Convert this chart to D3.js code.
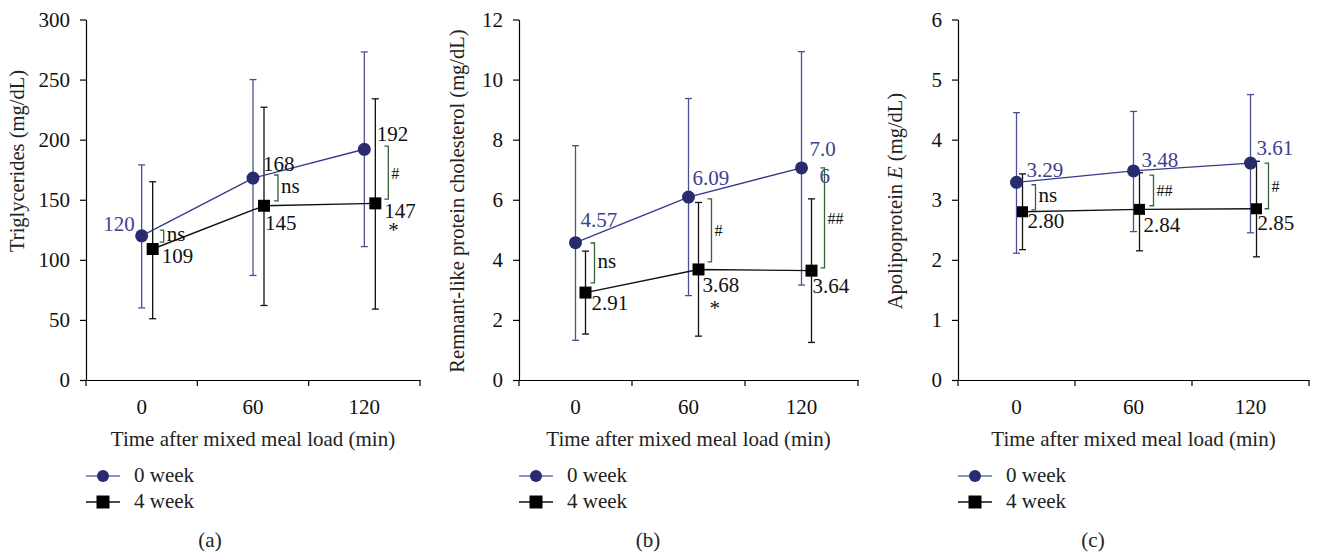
<!DOCTYPE html>
<html lang="en">
<head>
  <meta charset="UTF-8" />
  <title>Postprandial lipids, 0 vs 4 week</title>
  <script src="https://d3js.org/d3.v7.min.js"></script>
  <style>
    body {
      margin: 0;
      background: #fff;
    }
    svg {
      display: block;
      font-family: "Liberation Serif", "Times New Roman", serif;
    }
    .axis path, .axis line {
      stroke: #000;
      stroke-width: 1.2px;
    }
    .axis text {
      font-size: 21px;
      fill: #111;
      font-family: "Liberation Serif", serif;
    }
  </style>
</head>
<body>
  <svg id="chart" width="1317" height="554"></svg>

  <script>
    // time points on the x axis
    const times = ["0", "60", "120"];

    // (a) triglycerides, mg/dL
    const tgWeek0 = [120, 168, 192];
    const tgWeek0Err = [[60, 179], [87, 250], [111, 273]];
    const tgWeek4 = [109, 145, 147];
    const tgWeek4Err = [[51, 165], [62, 227], [59, 234]];
    const tgSig = [[114.8, 124.8, "ns"], [149, 170.6, "ns"], [150.6, 194.7, "#"]];
    const tgStar = ["", "", "*"];

    // (b) remnant-like protein cholesterol, mg/dL
    const rlpWeek0 = [4.57, 6.09, 7.06];
    const rlpWeek0Err = [[1.32, 7.80], [2.81, 9.37], [3.16, 10.93]];
    const rlpWeek4 = [2.91, 3.68, 3.64];
    const rlpWeek4Err = [[1.53, 4.29], [1.46, 5.91], [1.25, 6.03]];
    const rlpSig = [[3.23, 4.56, "ns"], [3.93, 6.03, "#"], [3.73, 7.06, "##"]];
    const rlpStar = ["", "*", ""];

    // (c) apolipoprotein E, mg/dL
    const apoWeek0 = [3.29, 3.48, 3.61];
    const apoWeek0Err = [[2.11, 4.45], [2.47, 4.47], [2.45, 4.75]];
    const apoWeek4 = [2.80, 2.84, 2.85];
    const apoWeek4Err = [[2.17, 3.43], [2.15, 3.45], [2.05, 3.64]];
    const apoSig = [[2.83, 3.25, "ns"], [2.90, 3.41, "##"], [2.85, 3.61, "#"]];
    const apoStar = ["", "", ""];

    const seriesNames = ["0 week", "4 week"];

    const navy = "#282b6d";
    const blueLine = "#363a8c";
    const blueErr = "#4b5096";
    const blueText = "#3d418e";
    const green = "#37603c";

    const svg = d3.select("#chart");
    const plotTop = 19.5, plotBottom = 380;
    const fs = 21;

    // layout per panel (pixel placement only)
    const panels = [
      {
        key: "a", left: 86, right: 420, yMax: 300, yStep: 50,
        title: ["Triglycerides (mg/dL)"], titleX: 24, titleY: 161, caption: 210,
        w0: tgWeek0, w0Err: tgWeek0Err, w4: tgWeek4, w4Err: tgWeek4Err,
        sig: tgSig, star: tgStar, sqShift: 11, sq: 12,
        fmt: d => d3.format("d")(d),
        w0Color: [blueText, "#111", "#111"],
        w0Off: [[-7, -5, "end"], [10, -7.5, "start"], [12.5, -8, "start"]],
        w4Off: [[9, 14], [1, 24.5], [9, 14.5]],
        sigX: [11, 14, 13],
        starOff: [[0, 0], [0, 0], [13, 34]]
      },
      {
        key: "b", left: 519, right: 858, yMax: 12, yStep: 2,
        title: ["Remnant-like protein cholesterol (mg/dL)"], titleX: 464, titleY: 201, caption: 648,
        w0: rlpWeek0, w0Err: rlpWeek0Err, w4: rlpWeek4, w4Err: rlpWeek4Err,
        sig: rlpSig, star: rlpStar, sqShift: 10, sq: 12,
        fmt: d => d3.format(".2f")(d),
        w0Color: [blueText, blueText, blueText],
        w0Off: [[5, -16, "start"], [4, -12, "start"], [8, -12, "start"]],
        w4Off: [[6, 17.5], [4, 22.5], [1, 22.5]],
        sigX: [9, 13, 13],
        starOff: [[0, 0], [11, 46], [0, 0]]
      },
      {
        key: "c", left: 958, right: 1309, yMax: 6, yStep: 1,
        title: ["Apolipoprotein ", "E", " (mg/dL)"], titleX: 902, titleY: 201, caption: 1093,
        w0: apoWeek0, w0Err: apoWeek0Err, w4: apoWeek4, w4Err: apoWeek4Err,
        sig: apoSig, star: apoStar, sqShift: 6, sq: 11,
        fmt: d => d3.format(".2f")(d),
        w0Color: [blueText, blueText, blueText],
        w0Off: [[10, -5, "start"], [8, -4, "start"], [6, -8, "start"]],
        w4Off: [[5, 16.5], [4, 22.5], [1, 21.5]],
        sigX: [13, 14, 12],
        starOff: [[0, 0], [0, 0], [0, 0]]
      }
    ];

    panels.forEach(p => {
      const g = svg.append("g");

      const x = d3.scaleBand().domain(times).range([p.left, p.right]).padding(0);
      const y = d3.scaleLinear().domain([0, p.yMax]).range([plotBottom, plotTop]);
      const cx = t => x(t) + x.bandwidth() / 2;

      // y axis
      g.append("g")
        .attr("class", "axis")
        .attr("transform", `translate(${p.left},0)`)
        .call(d3.axisLeft(y).tickValues(d3.range(0, p.yMax + 0.001, p.yStep))
          .tickSize(6).tickSizeOuter(0).tickPadding(10).tickFormat(d3.format("d")));

      // x axis: ticks on band boundaries, labels at band centres
      g.append("g")
        .attr("class", "axis")
        .attr("transform", `translate(0,${plotBottom})`)
        .call(d3.axisBottom(x).tickSize(0).tickSizeOuter(0).tickPadding(19));

      const bounds = times.map(t => x(t)).concat([p.right]);
      g.selectAll(".xb")
        .data(bounds)
        .enter()
        .append("line")
        .attr("x1", d => d).attr("x2", d => d)
        .attr("y1", plotBottom).attr("y2", plotBottom + 6)
        .attr("stroke", "#000").attr("stroke-width", 1.2);

      // axis titles
      const yt = g.append("text")
        .attr("transform", `translate(${p.titleX},${p.titleY}) rotate(-90)`)
        .attr("text-anchor", "middle")
        .attr("font-size", 20.5)
        .attr("fill", "#222");
      p.title.forEach((s, i) => {
        yt.append("tspan").text(s).attr("font-style", i === 1 ? "italic" : null);
      });

      g.append("text")
        .attr("x", (p.left + p.right) / 2)
        .attr("y", 446)
        .attr("text-anchor", "middle")
        .attr("font-size", fs)
        .attr("fill", "#222")
        .text("Time after mixed meal load (min)");

      const w0Pts = times.map((t, i) => ({ t, i, v: p.w0[i], lo: p.w0Err[i][0], hi: p.w0Err[i][1], px: cx(t) }));
      const w4Pts = times.map((t, i) => ({ t, i, v: p.w4[i], lo: p.w4Err[i][0], hi: p.w4Err[i][1], px: cx(t) + p.sqShift }));

      // error bars
      const errBars = (pts, color) => {
        const eg = g.append("g").attr("stroke", color).attr("stroke-width", 1.3).attr("fill", "none");
        pts.forEach(d => {
          eg.append("line").attr("x1", d.px).attr("x2", d.px).attr("y1", y(d.lo)).attr("y2", y(d.hi));
          [d.lo, d.hi].forEach(v => {
            eg.append("line").attr("x1", d.px - 3.5).attr("x2", d.px + 3.5).attr("y1", y(v)).attr("y2", y(v));
          });
        });
      };
      errBars(w0Pts, blueErr);
      errBars(w4Pts, "#111");

      const line = d3.line().x(d => d.px).y(d => y(d.v));
      g.append("path").datum(w0Pts).attr("d", line)
        .attr("fill", "none").attr("stroke", blueLine).attr("stroke-width", 1.4);
      g.append("path").datum(w4Pts).attr("d", line)
        .attr("fill", "none").attr("stroke", "#111").attr("stroke-width", 1.4);

      // markers
      g.selectAll(".dot")
        .data(w0Pts)
        .enter()
        .append("circle")
        .attr("cx", d => d.px)
        .attr("cy", d => y(d.v))
        .attr("r", 6.5)
        .attr("fill", navy);

      g.selectAll(".sq")
        .data(w4Pts)
        .enter()
        .append("rect")
        .attr("x", d => d.px - p.sq / 2)
        .attr("y", d => y(d.v) - p.sq / 2)
        .attr("width", p.sq)
        .attr("height", p.sq)
        .attr("fill", "#000");

      // value labels
      w0Pts.forEach(d => {
        const o = p.w0Off[d.i];
        const lx = d.px + o[0], ly = y(d.v) + o[1];
        const txt = p.fmt(d.v);
        const t = g.append("text")
          .attr("x", lx).attr("y", ly)
          .attr("text-anchor", o[2])
          .attr("font-size", fs)
          .attr("fill", p.w0Color[d.i]);
        if (p.key === "b" && d.i === 2) {
          // the label wraps in the original figure
          t.text(txt.slice(0, 3));
          g.append("text").attr("x", lx + 10).attr("y", ly + 27)
            .attr("font-size", fs).attr("fill", p.w0Color[d.i]).text(txt.slice(3));
        } else {
          t.text(txt);
        }
      });

      w4Pts.forEach(d => {
        const o = p.w4Off[d.i];
        g.append("text")
          .attr("x", d.px + o[0]).attr("y", y(d.v) + o[1])
          .attr("font-size", fs)
          .attr("fill", "#111")
          .text(p.fmt(d.v));
      });

      // significance brackets
      p.sig.forEach((s, i) => {
        const bx = w4Pts[i].px + p.sigX[i];
        const y1 = y(s[1]), y2 = y(s[0]);
        g.append("path")
          .attr("d", `M${bx - 4},${y1}H${bx}V${y2}H${bx - 4}`)
          .attr("fill", "none")
          .attr("stroke", green)
          .attr("stroke-width", 1.3);
        g.append("text")
          .attr("x", bx + 3)
          .attr("y", (y1 + y2) / 2 + (s[2] === "ns" ? 5 : 6))
          .attr("font-size", s[2] === "ns" ? fs : 16)
          .attr("fill", "#111")
          .text(s[2]);
      });

      // within-group marks
      p.star.forEach((s, i) => {
        if (!s) return;
        const o = p.starOff[i];
        g.append("text")
          .attr("x", w4Pts[i].px + o[0])
          .attr("y", y(p.w4[i]) + o[1])
          .attr("font-size", fs)
          .attr("fill", "#111")
          .text(s);
      });

      // legend
      const lg = g.append("g").attr("transform", `translate(${p.left},0)`);
      const rows = [476, 502];
      lg.append("line").attr("x1", 0).attr("x2", 34).attr("y1", rows[0]).attr("y2", rows[0])
        .attr("stroke", "#6c6ca8").attr("stroke-width", 1.6);
      lg.append("circle").attr("cx", 17).attr("cy", rows[0]).attr("r", 6).attr("fill", navy);
      lg.append("line").attr("x1", 0).attr("x2", 34).attr("y1", rows[1]).attr("y2", rows[1])
        .attr("stroke", "#111").attr("stroke-width", 1.6);
      lg.append("rect").attr("x", 10.5).attr("y", rows[1] - 6.5).attr("width", 13).attr("height", 13).attr("fill", "#000");
      seriesNames.forEach((n, i) => {
        lg.append("text").attr("x", 48).attr("y", rows[i] + 6)
          .attr("font-size", fs).attr("fill", "#222").text(n);
      });

      // panel caption
      g.append("text")
        .attr("x", p.caption)
        .attr("y", 547)
        .attr("text-anchor", "middle")
        .attr("font-size", fs)
        .attr("fill", "#222")
        .text(`(${p.key})`);
    });
  </script>
</body>
</html>
